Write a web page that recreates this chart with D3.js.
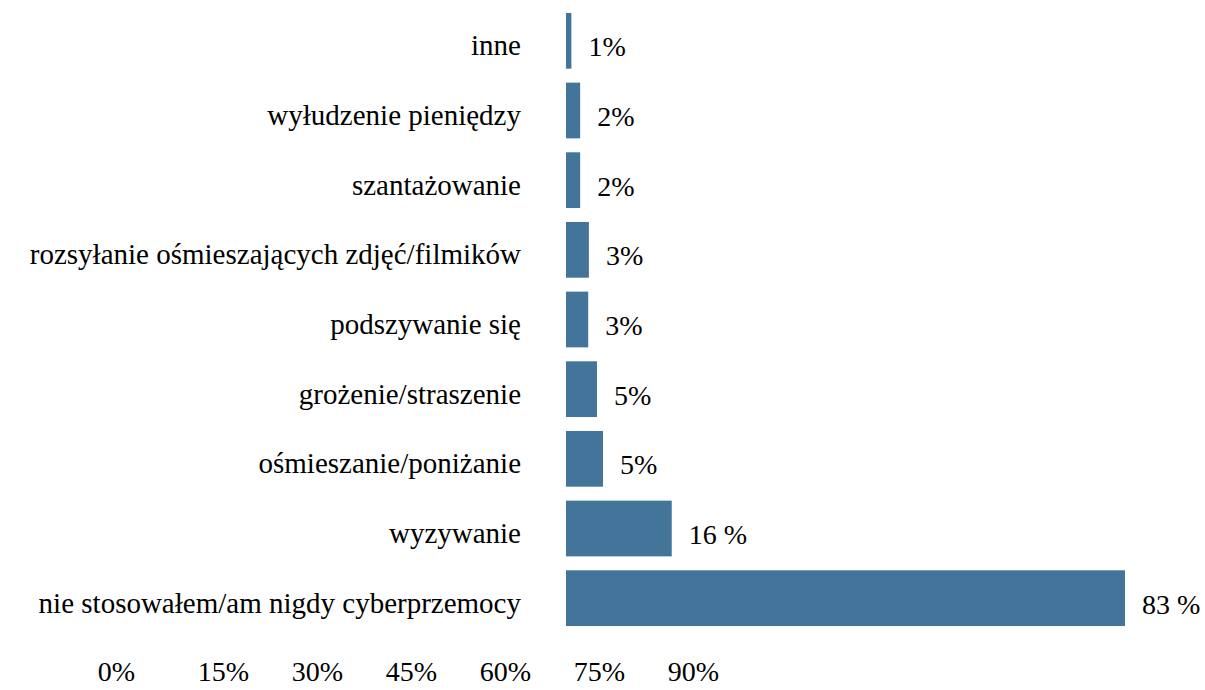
<!DOCTYPE html>
<html>
<head>
<meta charset="utf-8">
<script src="https://cdn.jsdelivr.net/npm/d3@7"></script>
<style>
  body { margin: 0; background: #fff; font-family: "Liberation Serif", "Times New Roman", serif; }
  .prime { position: absolute; left: 0; top: 0; font-family: "Liberation Serif"; font-size: 28px; }
</style>
</head>
<body>
<span class="prime">&nbsp;</span>
<div id="chart"></div>
<script>
var w = 1205;
var h = 690;
var fontName = "'Liberation Serif', 'Times New Roman', serif";

// categories from top to bottom
var categories = [
    "inne",
    "wyłudzenie pieniędzy",
    "szantażowanie",
    "rozsyłanie ośmieszających zdjęć/filmików",
    "podszywanie się",
    "grożenie/straszenie",
    "ośmieszanie/poniżanie",
    "wyzywanie",
    "nie stosowałem/am nigdy cyberprzemocy"
];
var values = [0.8, 2.1, 2.1, 3.4, 3.3, 4.6, 5.5, 15.7, 83];
var valueLabels = ["1%", "2%", "2%", "3%", "3%", "5%", "5%", "16 %", "83 %"];
var tickValues = [0, 15, 30, 45, 60, 75, 90];

var svg = d3.select("#chart")
    .append("svg")
    .attr("width", w)
    .attr("height", h)
    .style("display", "block");

var x = d3.scaleLinear()
    .domain([0, 83])
    .range([566, 1125]);

var y = d3.scaleBand()
    .domain(categories)
    .range([6, 633])
    .paddingInner(0.2)
    .paddingOuter(0.1);

var data = categories.map(function (c, i) {
    return { name: c, value: values[i], label: valueLabels[i] };
});

svg.selectAll("rect.bar")
    .data(data)
    .enter()
    .append("rect")
    .attr("class", "bar")
    .attr("x", x(0))
    .attr("y", function (d) { return y(d.name); })
    .attr("width", function (d) { return x(d.value) - x(0); })
    .attr("height", y.bandwidth())
    .attr("fill", "#427599");

svg.selectAll("text.cat")
    .data(data)
    .enter()
    .append("text")
    .attr("class", "cat")
    .attr("x", 521)
    .attr("y", function (d) { return y(d.name) + y.bandwidth() / 2; })
    .attr("dy", "0.5em")
    .attr("text-anchor", "end")
    .style("font-family", fontName)
    .style("font-size", "29px")
    .attr("fill", "#000")
    .text(function (d) { return d.name; });

svg.selectAll("text.val")
    .data(data)
    .enter()
    .append("text")
    .attr("class", "val")
    .attr("x", function (d) { return x(d.value) + 17; })
    .attr("y", function (d) { return y(d.name) + y.bandwidth() / 2; })
    .attr("dy", "0.55em")
    .style("font-family", fontName)
    .style("font-size", "28px")
    .attr("fill", "#000")
    .text(function (d) { return d.label; });

// the percentage axis sits below, detached from the bars
var xAxisScale = d3.scaleLinear()
    .domain([15, 90])
    .range([223, 693]);

var axis = d3.axisBottom(xAxisScale)
    .tickValues(tickValues)
    .tickSize(0)
    .tickFormat(function (d) { return d + "%"; });

var ax = svg.append("g")
    .attr("transform", "translate(0," + 664 + ")")
    .call(axis);

ax.select(".domain").remove();
ax.selectAll("text")
    .style("font-family", fontName)
    .style("font-size", "28px")
    .attr("fill", "#000")
    .attr("dy", "0.5em")
    .attr("x", function (d) { return d === 0 ? -13 : 0; });
</script>
</body>
</html>
